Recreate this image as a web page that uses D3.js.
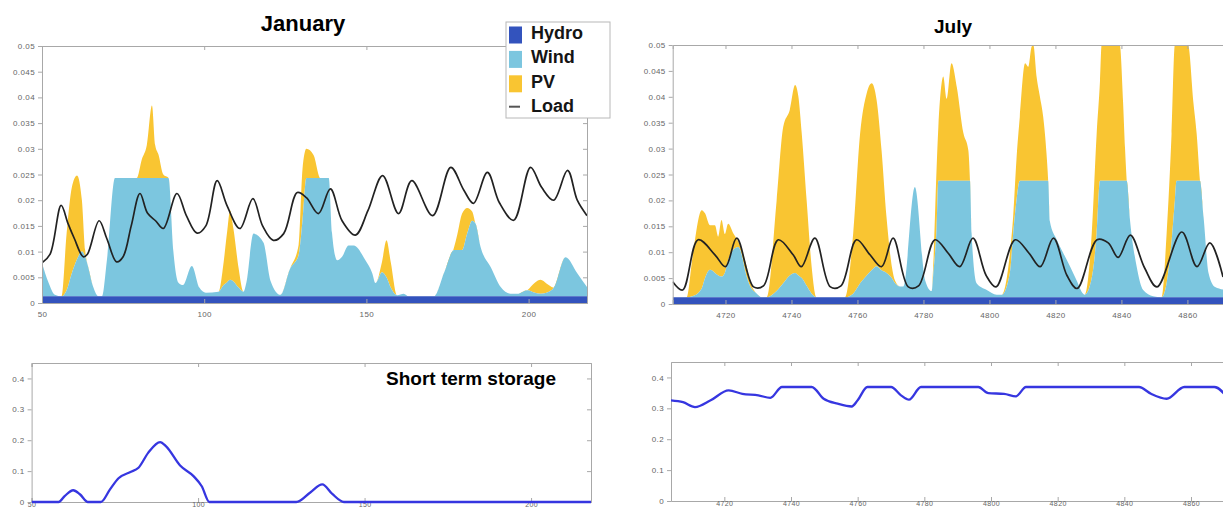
<!DOCTYPE html>
<html>
<head>
<meta charset="utf-8">
<title>January / July generation and storage</title>
<script src="https://d3js.org/d3.v7.min.js"></script>
<style>
    body {
        margin: 0;
        background: #fff;
        font-family: "Liberation Sans", Arial, sans-serif;
    }
    .tick text {
        fill: #666;
        font-size: 8px;
        letter-spacing: 0.4px;
    }
    .store .x-axis .tick text {
        font-size: 7px;
    }
    .tick line, .domain {
        stroke: #a8a8a8;
    }
</style>
</head>
<body>
<svg id="chart" width="1223" height="511"></svg>
<script>
// ---------- data ----------
const hydroJan = 0.0013;
const hydroJul = 0.0013;

// January generation, stack breakpoints (hour, wind above hydro, pv above wind)
const janHours = [50, 52, 54, 56, 57.6, 59.2, 60.8, 62.3, 63.3, 64, 65.8, 67.4, 68.5, 70, 72.5,
    79.2, 80.8, 82.3, 83.9, 84.9, 85.9, 87.4, 89, 90.5, 92, 93.5, 96.2, 98.5, 100.5,
    104.4, 106, 107, 108, 109, 110.6, 112.1, 113, 115.2, 118.3, 120.4, 123.5, 126.5,
    129.1, 130.3, 131.5, 133.7, 135.8, 138.4, 139.4, 141, 142.5, 144.5, 146.1, 149.7,
    151.8, 152.8, 154.8, 156.2, 157.5, 159.5, 161.5, 163, 170.8, 174, 177, 178, 179.5,
    181.1, 182.6, 183.6, 185.2, 188.3, 191.4, 194.4, 196.5, 199.6, 202, 203.7, 205.5,
    207.8, 211.4, 215, 218];
const janWind = [.0065, .0027, .0003, 0, .0012, .0045, .0072, .0087, .0077, .0063, .0018, 0, 0, .0070, .0230,
    .0230, .0230, .0230, .0230, .0230, .0230, .0230, .0230, .0087, .0027, .0022, .0059, .0017, .0007,
    .0009, .0022, .0027, .0032, .0029, .0017, .0009, .0027, .0122, .0104, .0031, .0003, .0054,
    .0080, .0147, .0230, .0230, .0230, .0230, .0123, .0070, .0077, .0099, .0099, .0070,
    .0045, .0026, .0047, .0037, .0017, .0002, .0005, 0, 0, .0047, .0090, .0090, .0090,
    .0123, .0147, .0142, .0096, .0057, .0018, .0005, .0005, .0012, .0007, .0005, .0007,
    .0017, .0076, .0045, .0018];
const janPV = [0, 0, 0, 0, .0111, .0167, .0163, .0100, .0013, 0, 0, 0, 0, 0, 0,
    0, .0037, .0064, .0141, .0064, .0046, .0007, 0, 0, 0, 0, 0, 0, 0,
    0, .0045, .0095, .0135, .0103, .0038, 0, 0, 0, 0, 0, 0, 0,
    .0020, .0100, .0057, .0045, 0, 0, 0, 0, 0, 0, 0, 0,
    0, 0, .0020, .0072, .0050, 0, 0, 0, 0, 0, .0005, .0030, .0071,
    .0049, .0018, 0, 0, 0, 0, 0, 0, 0, .0020, .0027, .0018,
    0, 0, 0, 0];
const janLoadHours = [50, 52.5, 55.9, 58, 60, 62.7, 64, 67.6, 70, 73, 75, 77.5, 80.2, 82.5, 85, 87.4,
    91.6, 94.5, 97.8, 100.5, 104, 107, 111, 115, 118, 121.3, 124.5, 128.7, 131.5, 135.2,
    138.9, 142.5, 146.6, 150.5, 155, 159.9, 164, 170.4, 176, 180, 183, 187.3, 191, 195.4,
    200.6, 204, 207.7, 212, 215, 218];
const janLoad = [.0078, .0095, .0190, .0155, .0125, .0090, .0095, .0160, .0125, .0080, .0090, .0150, .0213, .0175, .0160, .0145,
    .0213, .0170, .0136, .0150, .0238, .0190, .0145, .0203, .0150, .0122, .0135, .0215, .0205, .0174,
    .0222, .0160, .0132, .0180, .0248, .0174, .0238, .0170, .0264, .0220, .0194, .0254, .0195, .0161,
    .0264, .0225, .0200, .0258, .0200, .0170];

// July generation
const julHours = [4704, 4708.2, 4710, 4712.8, 4713.8, 4715.3, 4716.8, 4717.8, 4718.8, 4719.8, 4720.8,
    4722.4, 4723.9, 4724.4, 4726.4, 4727.4, 4729.5, 4731, 4732.5, 4735.5, 4737.5, 4739.5, 4741.1,
    4742.1, 4743.1, 4744.6, 4746.1, 4747.6, 4756.2, 4758.7, 4760.8, 4762.8, 4764.3, 4765.8, 4767.3,
    4768.8, 4770.4, 4771.4, 4772.9, 4773.9, 4777.4, 4780.5, 4782.5, 4783, 4784, 4784.5, 4785.5,
    4786, 4787, 4788.5, 4790.1, 4792.1, 4793.6, 4794.1, 4794.6, 4796.1, 4799.2, 4802.2, 4803.7,
    4806.2, 4807.2, 4808.2, 4809.2, 4810.8, 4811.8, 4812.8, 4813.3, 4814.3, 4815.3, 4816.3, 4817.3,
    4817.8, 4818.3, 4820.4, 4822.4, 4824.4, 4826.4, 4828.4, 4828.9, 4831, 4832.5, 4833.5, 4834,
    4839.5, 4840.5, 4841.1, 4841.6, 4842.6, 4844.6, 4846.6, 4849.6, 4852.2, 4853.7, 4855.2, 4856.2,
    4856.7, 4860.2, 4861.8, 4862.8, 4863.8, 4864.9, 4866.4, 4868.4, 4872];
const julWind = [0, 0, .0002, .0017, .0037, .0053, .0047, .0042, .0040, .0047, .0072,
    .0092, .0097, .0092, .0040, .0022, .0007, 0, 0, .0012, .0027, .0042, .0047,
    .0042, .0037, .0022, .0007, 0, 0, .0007, .0027, .0042, .0052, .0060, .0052,
    .0047, .0037, .0027, .0021, .0021, .0213, .0033, .0012, .0047, .0137, .0225, .0225,
    .0225, .0225, .0225, .0225, .0225, .0225, .0225, .0123, .0027, .0014, .0005, .0005,
    .0047, .0123, .0187, .0225, .0225, .0225, .0225, .0225, .0225, .0225, .0225, .0225,
    .0225, .0147, .0111, .0085, .0060, .0033, .0007, .0005, .0037, .0123, .0225, .0225,
    .0225, .0225, .0225, .0225, .0149, .0060, .0014, .0002, 0, .0027, .0107, .0187,
    .0225, .0225, .0225, .0225, .0225, .0155, .0047, .0020, .0014];
const julPV = [0, 0, .0075, .0151, .0125, .0086, .0092, .0075, .0109, .0075, .0070,
    .0031, .0010, .0008, .0020, .0010, 0, 0, 0, .0175, .0302, .0320, .0363,
    .0345, .0280, .0165, .0053, 0, 0, .0116, .0289, .0352, .0361, .0321, .0232,
    .0108, .0023, .0005, 0, 0, 0, 0, 0, .0020, .0115, .0102, .0188,
    .0201, .0158, .0227, .0181, .0092, .0059, 0, 0, 0, 0, 0, 0,
    .0038, .0034, .0080, .0123, .0227, .0220, .0259, .0262, .0200, .0162, .0123, .0052,
    0, 0, 0, 0, 0, 0, 0, 0, .0086, .0193, .0192, .0262,
    .0262, .0152, .0062, 0, 0, 0, 0, 0, 0, .0096, .0209, .0300,
    .0262, .0262, .0152, .0091, 0, 0, 0, 0, 0];
const julLoadHours = [4704, 4707, 4711.7, 4716.8, 4720, 4723.4, 4728.5, 4731.5, 4736, 4740.5, 4743,
    4747.1, 4751.8, 4755, 4759.7, 4763.8, 4767.3, 4770.8, 4775.4, 4778.5, 4783.5, 4787.5, 4791,
    4795, 4799, 4802, 4807.8, 4812, 4815.4, 4819.4, 4823.5, 4826.6, 4832.6, 4836, 4839, 4842.7,
    4847, 4850.8, 4858.3, 4862.9, 4866.8, 4870.8];
const julLoad = [.0043, .0027, .0124, .0095, .0072, .0127, .0033, .0035, .0124, .0095, .0072,
    .0127, .0033, .0035, .0124, .0095, .0072, .0127, .0033, .0035, .0124, .0098, .0072,
    .0127, .0055, .0033, .0124, .0098, .0072, .0127, .0055, .0030, .0124, .0118, .0090, .0133,
    .0070, .0033, .0139, .0072, .0118, .0052];

// short term storage
const janStoreHours = [50, 58.1, 60, 62.5, 64.5, 66.9, 70.8, 73.5, 76.1, 79.7, 82.1, 85, 88.6, 90.4,
    94.6, 98.7, 101.1, 103.4, 129.5, 133.7, 137.3, 140.3, 143.8, 218];
const janStore = [0, 0, .020, .038, .025, 0, 0, .040, .077, .097, .111, .159, .194, .180,
    .118, .083, .051, 0, 0, .031, .057, .026, 0, 0];
const julStoreHours = [4704, 4707.6, 4711.2, 4715.9, 4721.3, 4725.4, 4730.2, 4733.8, 4737.3, 4746.2,
    4749.8, 4754, 4758.2, 4760, 4762.9, 4770, 4773, 4775.4, 4779, 4796.2, 4799.2, 4803.9, 4807.5,
    4810.5, 4844.4, 4848, 4852.7, 4858, 4867, 4871.5];
const julStore = [.326, .320, .304, .326, .358, .347, .342, .334, .369, .369,
    .331, .315, .306, .326, .369, .369, .342, .328, .369, .369, .349, .347, .339,
    .369, .369, .347, .331, .369, .369, .326];

// ticks
const janXTicks = [50, 100, 150, 200];
const julXTicks = [4720, 4740, 4760, 4780, 4800, 4820, 4840, 4860];
const genYTicks = [0, 0.005, 0.01, 0.015, 0.02, 0.025, 0.03, 0.035, 0.04, 0.045, 0.05];
const storeYTicks = [0, 0.1, 0.2, 0.3, 0.4];

const legendNames = ["Hydro", "Wind", "PV", "Load"];
const colors = { hydro: "#3353bd", wind: "#7cc6df", pv: "#f9c532", load: "#222", store: "#3636e0" };

const svg = d3.select("#chart");
const fmt = d => d === 0 ? "0" : String(+d.toFixed(3));

// box with inward ticks on top / right, labelled axes left / bottom
function drawAxes(g, x, y, xTicks, yTicks, box, bottomPad) {
    g.append("g")
        .attr("class", "x-axis")
        .attr("transform", `translate(0,${box.bottom})`)
        .call(d3.axisBottom(x).tickValues(xTicks).tickSize(-4).tickPadding(bottomPad).tickFormat(d3.format("d")));
    g.append("g")
        .attr("transform", `translate(${box.left},0)`)
        .call(d3.axisLeft(y).tickValues(yTicks).tickSizeInner(4).tickSizeOuter(0).tickPadding(3).tickFormat(fmt));
    g.append("g")
        .attr("transform", `translate(0,${box.top})`)
        .call(d3.axisTop(x).tickValues(xTicks).tickSize(-4).tickFormat(""));
    g.append("g")
        .attr("transform", `translate(${box.right},0)`)
        .call(d3.axisRight(y).tickValues(yTicks).tickSize(-4).tickFormat(""));
    g.selectAll(".domain").attr("stroke", "#a8a8a8");
}

function genPanel(id, box, domain, hours, hydro, wind, pv, loadH, load, xTicks) {
    const x = d3.scaleLinear().domain(domain).range([box.left, box.right]);
    const y = d3.scaleLinear().domain([0, 0.05]).range([box.bottom, box.top]);
    const g = svg.append("g");

    g.append("clipPath").attr("id", id)
        .append("rect")
        .attr("x", box.left).attr("y", box.top)
        .attr("width", box.right - box.left).attr("height", box.bottom - box.top);
    const plot = g.append("g").attr("clip-path", `url(#${id})`);

    const rows = hours.map((h, i) => ({ h: h, hydro: hydro, wind: wind[i], pv: pv[i] }));
    const layers = d3.stack().keys(["hydro", "wind", "pv"])(rows);
    const area = d3.area()
        .x(d => x(d.data.h))
        .y0(d => y(d[0]))
        .y1(d => y(d[1]))
        .curve(d3.curveMonotoneX);

    plot.selectAll("path.layer")
        .data(layers.slice().reverse())
        .join("path")
        .attr("class", "layer")
        .attr("fill", d => colors[d.key])
        .attr("d", area);

    const line = d3.line()
        .x((d, i) => x(loadH[i]))
        .y(d => y(d))
        .curve(d3.curveCatmullRom.alpha(0.5));
    plot.append("path")
        .datum(load)
        .attr("fill", "none")
        .attr("stroke", colors.load)
        .attr("stroke-width", 1.7)
        .attr("d", line);

    drawAxes(g, x, y, xTicks, genYTicks, box, 8);
}

function storePanel(id, box, domain, hours, vals, xTicks) {
    const x = d3.scaleLinear().domain(domain).range([box.left, box.right]);
    const y = d3.scaleLinear().domain([0, 0.45]).range([box.bottom, box.top]);
    const g = svg.append("g").attr("class", "store");

    g.append("clipPath").attr("id", id)
        .append("rect")
        .attr("x", box.left).attr("y", box.top - 2)
        .attr("width", box.right - box.left).attr("height", box.bottom - box.top + 4);

    drawAxes(g, x, y, xTicks, storeYTicks, box, 0);

    g.append("g").attr("clip-path", `url(#${id})`)
        .append("path")
        .datum(vals)
        .attr("fill", "none")
        .attr("stroke", colors.store)
        .attr("stroke-width", 2.3)
        .attr("d", d3.line()
            .x((d, i) => x(hours[i]))
            .y(d => y(d))
            .curve(d3.curveMonotoneX));
}

genPanel("clipJan", { left: 42, right: 587, top: 46, bottom: 303 }, [50, 218],
    janHours, hydroJan, janWind, janPV, janLoadHours, janLoad, janXTicks);
genPanel("clipJul", { left: 672.7, right: 1227, top: 45, bottom: 304 }, [4704, 4872],
    julHours, hydroJul, julWind, julPV, julLoadHours, julLoad, julXTicks);
storePanel("clipStJan", { left: 31.6, right: 591, top: 363, bottom: 502 }, [50, 218],
    janStoreHours, janStore, janXTicks);
storePanel("clipStJul", { left: 671, right: 1231, top: 362, bottom: 501 }, [4704, 4872],
    julStoreHours, julStore, julXTicks);

// titles
svg.append("text").attr("x", 303).attr("y", 31).attr("text-anchor", "middle")
    .style("font-weight", "bold").style("font-size", "22px").text("January");
svg.append("text").attr("x", 953).attr("y", 33).attr("text-anchor", "middle")
    .style("font-weight", "bold").style("font-size", "19px").text("July");
svg.append("text").attr("x", 386).attr("y", 385)
    .style("font-weight", "bold").style("font-size", "19px").text("Short term storage");

// legend
const leg = svg.append("g");
leg.append("rect")
    .attr("x", 506).attr("y", 22).attr("width", 104).attr("height", 96)
    .attr("fill", "#fff").attr("stroke", "#b8b8b8");
const legKeys = ["hydro", "wind", "pv", "load"];
legendNames.forEach((name, i) => {
    const base = 39 + i * 24.4;
    if (legKeys[i] === "load") {
        leg.append("line")
            .attr("x1", 509).attr("x2", 520).attr("y1", base - 5.5).attr("y2", base - 5.5)
            .attr("stroke", "#555").attr("stroke-width", 2);
    } else {
        leg.append("rect")
            .attr("x", 509).attr("y", base - 12.5).attr("width", 13).attr("height", 17)
            .attr("fill", colors[legKeys[i]]);
    }
    leg.append("text")
        .attr("x", 531).attr("y", base)
        .style("font-weight", "bold").style("font-size", "18px").style("fill", "#151515")
        .text(name);
});
</script>
</body>
</html>
